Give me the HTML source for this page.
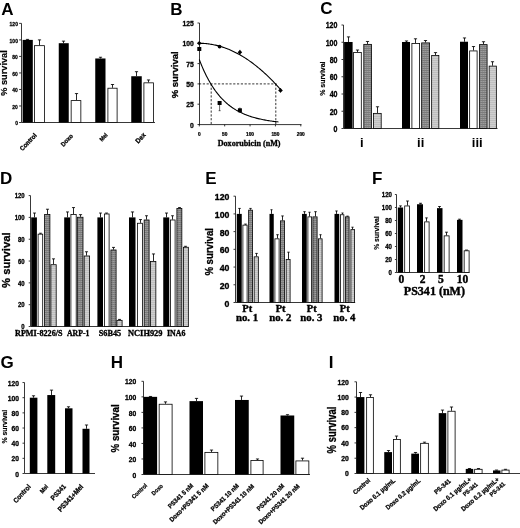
<!DOCTYPE html>
<html><head><meta charset="utf-8"><style>
html,body{margin:0;padding:0;background:#fff;width:520px;height:528px;overflow:hidden}
svg{display:block;filter:blur(0.3px)}
</style></head><body>
<svg width="520" height="528" viewBox="0 0 520 528">
<defs>
<pattern id="hatch" width="2" height="2" patternUnits="userSpaceOnUse">
<rect width="2" height="2" fill="#9c9c9c"/><rect width="2" height="0.6" fill="#666"/><rect width="0.45" height="2" fill="#7c7c7c"/>
</pattern>
<pattern id="light" width="2" height="2" patternUnits="userSpaceOnUse">
<rect width="2" height="2" fill="#cfcfcf"/><rect width="2" height="0.6" fill="#b4b4b4"/>
</pattern>
</defs>
<rect width="520" height="528" fill="#fff"/>
<text x="1.2" y="14.6" font-size="17" font-family='"Liberation Sans", sans-serif' font-weight="bold" text-anchor="start" fill="#000" >A</text>
<text x="170.3" y="14.8" font-size="17" font-family='"Liberation Sans", sans-serif' font-weight="bold" text-anchor="start" fill="#000" >B</text>
<text x="320.3" y="14" font-size="17" font-family='"Liberation Sans", sans-serif' font-weight="bold" text-anchor="start" fill="#000" >C</text>
<text x="0" y="183.6" font-size="17" font-family='"Liberation Sans", sans-serif' font-weight="bold" text-anchor="start" fill="#000" >D</text>
<text x="205.3" y="184.2" font-size="17" font-family='"Liberation Sans", sans-serif' font-weight="bold" text-anchor="start" fill="#000" >E</text>
<text x="372" y="184.2" font-size="17" font-family='"Liberation Sans", sans-serif' font-weight="bold" text-anchor="start" fill="#000" >F</text>
<text x="0.6" y="368.2" font-size="17" font-family='"Liberation Sans", sans-serif' font-weight="bold" text-anchor="start" fill="#000" >G</text>
<text x="110.8" y="368.2" font-size="17" font-family='"Liberation Sans", sans-serif' font-weight="bold" text-anchor="start" fill="#000" >H</text>
<text x="328.7" y="368.4" font-size="17" font-family='"Liberation Sans", sans-serif' font-weight="bold" text-anchor="start" fill="#000" >I</text>
<line x1="21.5" y1="122.5" x2="21.5" y2="23.38" stroke="#222" stroke-width="0.9"/>
<line x1="19.1" y1="122.5" x2="21.5" y2="122.5" stroke="#222" stroke-width="0.9"/>
<text x="17.9" y="125.2" font-size="6" font-family='"Liberation Sans", sans-serif' font-weight="bold" text-anchor="end" fill="#000" stroke="#000" stroke-width="0.27" textLength="2.77" lengthAdjust="spacingAndGlyphs" >0</text>
<line x1="19.1" y1="105.98" x2="21.5" y2="105.98" stroke="#222" stroke-width="0.9"/>
<text x="17.9" y="108.68" font-size="6" font-family='"Liberation Sans", sans-serif' font-weight="bold" text-anchor="end" fill="#000" stroke="#000" stroke-width="0.27" textLength="5.53" lengthAdjust="spacingAndGlyphs" >20</text>
<line x1="19.1" y1="89.46" x2="21.5" y2="89.46" stroke="#222" stroke-width="0.9"/>
<text x="17.9" y="92.16" font-size="6" font-family='"Liberation Sans", sans-serif' font-weight="bold" text-anchor="end" fill="#000" stroke="#000" stroke-width="0.27" textLength="5.53" lengthAdjust="spacingAndGlyphs" >40</text>
<line x1="19.1" y1="72.94" x2="21.5" y2="72.94" stroke="#222" stroke-width="0.9"/>
<text x="17.9" y="75.64" font-size="6" font-family='"Liberation Sans", sans-serif' font-weight="bold" text-anchor="end" fill="#000" stroke="#000" stroke-width="0.27" textLength="5.53" lengthAdjust="spacingAndGlyphs" >60</text>
<line x1="19.1" y1="56.42" x2="21.5" y2="56.42" stroke="#222" stroke-width="0.9"/>
<text x="17.9" y="59.12" font-size="6" font-family='"Liberation Sans", sans-serif' font-weight="bold" text-anchor="end" fill="#000" stroke="#000" stroke-width="0.27" textLength="5.53" lengthAdjust="spacingAndGlyphs" >80</text>
<line x1="19.1" y1="39.9" x2="21.5" y2="39.9" stroke="#222" stroke-width="0.9"/>
<text x="17.9" y="42.6" font-size="6" font-family='"Liberation Sans", sans-serif' font-weight="bold" text-anchor="end" fill="#000" stroke="#000" stroke-width="0.27" textLength="8.3" lengthAdjust="spacingAndGlyphs" >100</text>
<line x1="19.1" y1="23.38" x2="21.5" y2="23.38" stroke="#222" stroke-width="0.9"/>
<text x="17.9" y="26.08" font-size="6" font-family='"Liberation Sans", sans-serif' font-weight="bold" text-anchor="end" fill="#000" stroke="#000" stroke-width="0.27" textLength="8.3" lengthAdjust="spacingAndGlyphs" >120</text>
<line x1="21.5" y1="122.5" x2="155" y2="122.5" stroke="#222" stroke-width="0.9"/>
<line x1="27.5" y1="39.9" x2="27.5" y2="39.4" stroke="#000" stroke-width="0.85"/>
<line x1="25.9" y1="39.4" x2="29.1" y2="39.4" stroke="#000" stroke-width="0.85"/>
<rect x="22.6" y="39.9" width="10.2" height="82.6" fill="#000"/>
<line x1="39.5" y1="45.27" x2="39.5" y2="39.9" stroke="#000" stroke-width="0.85"/>
<line x1="37.9" y1="39.9" x2="41.1" y2="39.9" stroke="#000" stroke-width="0.85"/>
<rect x="34.5" y="45.67" width="9.9" height="76.83" fill="#fff" stroke="#000" stroke-width="0.8"/>
<line x1="63.5" y1="43.2" x2="63.5" y2="41.14" stroke="#000" stroke-width="0.85"/>
<line x1="61.9" y1="41.14" x2="65.1" y2="41.14" stroke="#000" stroke-width="0.85"/>
<rect x="58.75" y="43.2" width="10" height="79.3" fill="#000"/>
<line x1="76.5" y1="100.2" x2="76.5" y2="93.59" stroke="#000" stroke-width="0.85"/>
<line x1="74.9" y1="93.59" x2="78.1" y2="93.59" stroke="#000" stroke-width="0.85"/>
<rect x="71.15" y="100.6" width="9.7" height="21.9" fill="#fff" stroke="#000" stroke-width="0.8"/>
<line x1="100.5" y1="58.48" x2="100.5" y2="57.25" stroke="#000" stroke-width="0.85"/>
<line x1="98.9" y1="57.25" x2="102.1" y2="57.25" stroke="#000" stroke-width="0.85"/>
<rect x="95.25" y="58.48" width="10.25" height="64.02" fill="#000"/>
<line x1="112.5" y1="87.81" x2="112.5" y2="84.5" stroke="#000" stroke-width="0.85"/>
<line x1="110.9" y1="84.5" x2="114.1" y2="84.5" stroke="#000" stroke-width="0.85"/>
<rect x="107.9" y="88.21" width="9.2" height="34.29" fill="#fff" stroke="#000" stroke-width="0.8"/>
<line x1="136.5" y1="76.24" x2="136.5" y2="71.7" stroke="#000" stroke-width="0.85"/>
<line x1="134.9" y1="71.7" x2="138.1" y2="71.7" stroke="#000" stroke-width="0.85"/>
<rect x="131.25" y="76.24" width="10.5" height="46.26" fill="#000"/>
<line x1="148.5" y1="82.44" x2="148.5" y2="79.96" stroke="#000" stroke-width="0.85"/>
<line x1="146.9" y1="79.96" x2="150.1" y2="79.96" stroke="#000" stroke-width="0.85"/>
<rect x="143.9" y="82.84" width="9.7" height="39.66" fill="#fff" stroke="#000" stroke-width="0.8"/>
<text x="6.9" y="73" font-size="8.6" font-family='"Liberation Sans", sans-serif' font-weight="bold" text-anchor="middle" fill="#000" stroke="#000" stroke-width="0.18" textLength="45.5" lengthAdjust="spacingAndGlyphs" transform="rotate(-90 6.9 73)" >% survival</text>
<text x="37.12" y="135.83" font-size="6.56" font-family='"Liberation Sans", sans-serif' font-weight="bold" text-anchor="end" fill="#000" stroke="#000" stroke-width="0.28" textLength="21.2" lengthAdjust="spacingAndGlyphs" transform="rotate(-46.5 37.12 135.83)" >Control</text>
<text x="73.38" y="136.43" font-size="6.35" font-family='"Liberation Sans", sans-serif' font-weight="bold" text-anchor="end" fill="#000" stroke="#000" stroke-width="0.28" textLength="14.42" lengthAdjust="spacingAndGlyphs" transform="rotate(-46.5 73.38 136.43)" >Doxo</text>
<text x="108.1" y="135.29" font-size="5.95" font-family='"Liberation Sans", sans-serif' font-weight="bold" text-anchor="end" fill="#000" stroke="#000" stroke-width="0.27" textLength="9.01" lengthAdjust="spacingAndGlyphs" transform="rotate(-46.5 108.1 135.29)" >Mel</text>
<text x="146.28" y="135.33" font-size="6.93" font-family='"Liberation Sans", sans-serif' font-weight="bold" text-anchor="end" fill="#000" stroke="#000" stroke-width="0.29" textLength="11.56" lengthAdjust="spacingAndGlyphs" transform="rotate(-46.5 146.28 135.33)" >Dex</text>
<line x1="199.5" y1="124.5" x2="199.5" y2="23" stroke="#222" stroke-width="0.9"/>
<line x1="197.5" y1="124.5" x2="199.5" y2="124.5" stroke="#222" stroke-width="0.9"/>
<text x="193.9" y="127.6" font-size="6.4" font-family='"Liberation Sans", sans-serif' font-weight="bold" text-anchor="end" fill="#000" stroke="#000" stroke-width="0.28" textLength="3.77" lengthAdjust="spacingAndGlyphs" >0</text>
<line x1="197.5" y1="104.2" x2="199.5" y2="104.2" stroke="#222" stroke-width="0.9"/>
<text x="193.9" y="107.3" font-size="6.4" font-family='"Liberation Sans", sans-serif' font-weight="bold" text-anchor="end" fill="#000" stroke="#000" stroke-width="0.28" textLength="7.53" lengthAdjust="spacingAndGlyphs" >25</text>
<line x1="197.5" y1="83.9" x2="199.5" y2="83.9" stroke="#222" stroke-width="0.9"/>
<text x="193.9" y="87" font-size="6.4" font-family='"Liberation Sans", sans-serif' font-weight="bold" text-anchor="end" fill="#000" stroke="#000" stroke-width="0.28" textLength="7.53" lengthAdjust="spacingAndGlyphs" >50</text>
<line x1="197.5" y1="63.6" x2="199.5" y2="63.6" stroke="#222" stroke-width="0.9"/>
<text x="193.9" y="66.7" font-size="6.4" font-family='"Liberation Sans", sans-serif' font-weight="bold" text-anchor="end" fill="#000" stroke="#000" stroke-width="0.28" textLength="7.53" lengthAdjust="spacingAndGlyphs" >75</text>
<line x1="197.5" y1="43.3" x2="199.5" y2="43.3" stroke="#222" stroke-width="0.9"/>
<text x="193.9" y="46.4" font-size="6.4" font-family='"Liberation Sans", sans-serif' font-weight="bold" text-anchor="end" fill="#000" stroke="#000" stroke-width="0.28" textLength="11.3" lengthAdjust="spacingAndGlyphs" >100</text>
<line x1="197.5" y1="23" x2="199.5" y2="23" stroke="#222" stroke-width="0.9"/>
<text x="193.9" y="26.1" font-size="6.4" font-family='"Liberation Sans", sans-serif' font-weight="bold" text-anchor="end" fill="#000" stroke="#000" stroke-width="0.28" textLength="11.3" lengthAdjust="spacingAndGlyphs" >125</text>
<line x1="199" y1="124.6" x2="301.5" y2="124.6" stroke="#000" stroke-width="0.8"/>
<line x1="199.3" y1="124.6" x2="199.3" y2="126.4" stroke="#000" stroke-width="0.8"/>
<text x="199.3" y="136" font-size="4.8" font-family='"Liberation Sans", sans-serif' font-weight="bold" text-anchor="middle" fill="#000" stroke="#000" stroke-width="0.24" >0</text>
<line x1="224.68" y1="124.6" x2="224.68" y2="126.4" stroke="#000" stroke-width="0.8"/>
<text x="224.68" y="136" font-size="4.8" font-family='"Liberation Sans", sans-serif' font-weight="bold" text-anchor="middle" fill="#000" stroke="#000" stroke-width="0.24" >50</text>
<line x1="250.05" y1="124.6" x2="250.05" y2="126.4" stroke="#000" stroke-width="0.8"/>
<text x="250.05" y="136" font-size="4.8" font-family='"Liberation Sans", sans-serif' font-weight="bold" text-anchor="middle" fill="#000" stroke="#000" stroke-width="0.24" >100</text>
<line x1="275.43" y1="124.6" x2="275.43" y2="126.4" stroke="#000" stroke-width="0.8"/>
<text x="275.43" y="136" font-size="4.8" font-family='"Liberation Sans", sans-serif' font-weight="bold" text-anchor="middle" fill="#000" stroke="#000" stroke-width="0.24" >150</text>
<line x1="300.8" y1="124.6" x2="300.8" y2="126.4" stroke="#000" stroke-width="0.8"/>
<text x="300.8" y="136" font-size="4.8" font-family='"Liberation Sans", sans-serif' font-weight="bold" text-anchor="middle" fill="#000" stroke="#000" stroke-width="0.24" >200</text>
<text x="249.1" y="145.5" font-size="9" font-family='"Liberation Serif", serif' font-weight="bold" text-anchor="middle" fill="#000" stroke="#000" stroke-width="0.34" textLength="62.8" lengthAdjust="spacingAndGlyphs" >Doxorubicin (nM)</text>
<text x="177.9" y="74.8" font-size="9.3" font-family='"Liberation Sans", sans-serif' font-weight="bold" text-anchor="middle" fill="#000" stroke="#000" stroke-width="0.3" textLength="47" lengthAdjust="spacingAndGlyphs" transform="rotate(-90 177.9 74.8)" >% survival</text>
<line x1="199" y1="83.9" x2="276.6" y2="83.9" stroke="#000" stroke-width="0.8" stroke-dasharray="2.2,1.6"/>
<line x1="211.2" y1="83.9" x2="211.2" y2="124.6" stroke="#000" stroke-width="0.8" stroke-dasharray="2.2,1.6"/>
<line x1="275.8" y1="83.9" x2="275.8" y2="124.6" stroke="#000" stroke-width="0.8" stroke-dasharray="2.2,1.6"/>
<polyline points="199.3,43.3 200.31,43.31 201.33,43.33 202.34,43.36 203.36,43.42 204.38,43.48 205.39,43.56 206.41,43.65 207.42,43.76 208.44,43.88 209.45,44.02 210.47,44.17 211.48,44.34 212.5,44.52 213.51,44.71 214.53,44.92 215.54,45.15 216.56,45.38 217.57,45.64 218.59,45.9 219.6,46.18 220.62,46.48 221.63,46.79 222.65,47.11 223.66,47.45 224.68,47.81 225.69,48.17 226.71,48.56 227.72,48.95 228.74,49.36 229.75,49.79 230.77,50.23 231.78,50.68 232.8,51.15 233.81,51.64 234.83,52.13 235.84,52.64 236.86,53.17 237.87,53.71 238.88,54.27 239.9,54.84 240.92,55.42 241.93,56.02 242.94,56.63 243.96,57.26 244.98,57.9 245.99,58.56 247,59.23 248.02,59.91 249.03,60.61 250.05,61.33 251.06,62.05 252.08,62.8 253.09,63.55 254.11,64.33 255.12,65.11 256.14,65.91 257.16,66.73 258.17,67.56 259.19,68.4 260.2,69.26 261.22,70.13 262.23,71.02 263.25,71.92 264.26,72.83 265.27,73.76 266.29,74.71 267.31,75.67 268.32,76.64 269.34,77.63 270.35,78.63 271.37,79.65 272.38,80.68 273.39,81.73 274.41,82.79 275.43,83.86 276.44,84.95 277.45,86.05 278.47,87.17 279.49,88.3 280.5,89.45" fill="none" stroke="#000" stroke-width="1.1"/>
<polyline points="199.3,59.54 200.31,62.17 201.33,64.7 202.34,67.13 203.36,69.45 204.38,71.69 205.39,73.83 206.41,75.88 207.42,77.85 208.44,79.75 209.45,81.56 210.47,83.3 211.48,84.97 212.5,86.58 213.51,88.11 214.53,89.59 215.54,91.01 216.56,92.36 217.57,93.67 218.59,94.92 219.6,96.12 220.62,97.27 221.63,98.37 222.65,99.43 223.66,100.45 224.68,101.42 225.69,102.36 226.71,103.26 227.72,104.12 228.74,104.95 229.75,105.74 230.77,106.5 231.78,107.23 232.8,107.93 233.81,108.6 234.83,109.25 235.84,109.87 236.86,110.46 237.87,111.03 238.88,111.57 239.9,112.1 240.92,112.6 241.93,113.08 242.94,113.55 243.96,113.99 244.98,114.42 245.99,114.83 247,115.22 248.02,115.6 249.03,115.96 250.05,116.3 251.06,116.64 252.08,116.95 253.09,117.26 254.11,117.55 255.12,117.84 256.14,118.11 257.16,118.37 258.17,118.61 259.19,118.85 260.2,119.08 261.22,119.3 262.23,119.51 263.25,119.71 264.26,119.91 265.27,120.09 266.29,120.27 267.31,120.44 268.32,120.61 269.34,120.77 270.35,120.92 271.37,121.06 272.38,121.2 273.39,121.34 274.41,121.47 275.43,121.59 276.44,121.71 277.45,121.82 278.47,121.93" fill="none" stroke="#000" stroke-width="1.1"/>
<path d="M199.3,41 L201.6,43.3 L199.3,45.6 L197,43.3Z" fill="#000"/>
<circle cx="219.6" cy="46.55" r="1.9" fill="#000"/>
<path d="M239.9,49.93 L242.2,52.23 L239.9,54.53 L237.6,52.23Z" fill="#000"/>
<line x1="239.9" y1="54.67" x2="239.9" y2="49.8" stroke="#000" stroke-width="0.6"/>
<path d="M280.5,88.1 L282.8,90.4 L280.5,92.7 L278.2,90.4Z" fill="#000"/>
<line x1="280.5" y1="92.43" x2="280.5" y2="88.37" stroke="#000" stroke-width="0.6"/>
<rect x="197.3" y="46.98" width="4" height="4" fill="#000"/>
<rect x="217.6" y="100.98" width="4" height="4" fill="#000"/>
<line x1="219.6" y1="102.98" x2="219.6" y2="110.7" stroke="#000" stroke-width="0.6"/>
<line x1="218.6" y1="110.7" x2="220.6" y2="110.7" stroke="#000" stroke-width="0.6"/>
<rect x="237.9" y="108.29" width="4" height="4" fill="#000"/>
<line x1="239.9" y1="112.73" x2="239.9" y2="107.45" stroke="#000" stroke-width="0.6"/>
<line x1="343.5" y1="128.5" x2="343.5" y2="25" stroke="#222" stroke-width="0.9"/>
<line x1="341.5" y1="128.5" x2="343.5" y2="128.5" stroke="#222" stroke-width="0.9"/>
<text x="337.5" y="131.95" font-size="8.8" font-family='"Liberation Sans", sans-serif' font-weight="bold" text-anchor="end" fill="#000" stroke="#000" stroke-width="0.34" textLength="3.93" lengthAdjust="spacingAndGlyphs" >0</text>
<line x1="341.5" y1="111.25" x2="343.5" y2="111.25" stroke="#222" stroke-width="0.9"/>
<text x="337.5" y="114.7" font-size="8.8" font-family='"Liberation Sans", sans-serif' font-weight="bold" text-anchor="end" fill="#000" stroke="#000" stroke-width="0.34" textLength="7.87" lengthAdjust="spacingAndGlyphs" >20</text>
<line x1="341.5" y1="94" x2="343.5" y2="94" stroke="#222" stroke-width="0.9"/>
<text x="337.5" y="97.45" font-size="8.8" font-family='"Liberation Sans", sans-serif' font-weight="bold" text-anchor="end" fill="#000" stroke="#000" stroke-width="0.34" textLength="7.87" lengthAdjust="spacingAndGlyphs" >40</text>
<line x1="341.5" y1="76.75" x2="343.5" y2="76.75" stroke="#222" stroke-width="0.9"/>
<text x="337.5" y="80.2" font-size="8.8" font-family='"Liberation Sans", sans-serif' font-weight="bold" text-anchor="end" fill="#000" stroke="#000" stroke-width="0.34" textLength="7.87" lengthAdjust="spacingAndGlyphs" >60</text>
<line x1="341.5" y1="59.5" x2="343.5" y2="59.5" stroke="#222" stroke-width="0.9"/>
<text x="337.5" y="62.95" font-size="8.8" font-family='"Liberation Sans", sans-serif' font-weight="bold" text-anchor="end" fill="#000" stroke="#000" stroke-width="0.34" textLength="7.87" lengthAdjust="spacingAndGlyphs" >80</text>
<line x1="341.5" y1="42.25" x2="343.5" y2="42.25" stroke="#222" stroke-width="0.9"/>
<text x="337.5" y="45.7" font-size="8.8" font-family='"Liberation Sans", sans-serif' font-weight="bold" text-anchor="end" fill="#000" stroke="#000" stroke-width="0.34" textLength="11.8" lengthAdjust="spacingAndGlyphs" >100</text>
<line x1="341.5" y1="25" x2="343.5" y2="25" stroke="#222" stroke-width="0.9"/>
<text x="337.5" y="28.45" font-size="8.8" font-family='"Liberation Sans", sans-serif' font-weight="bold" text-anchor="end" fill="#000" stroke="#000" stroke-width="0.34" textLength="11.8" lengthAdjust="spacingAndGlyphs" >120</text>
<line x1="343.5" y1="128.5" x2="497.5" y2="128.5" stroke="#222" stroke-width="0.9"/>
<line x1="348.5" y1="41.99" x2="348.5" y2="36.9" stroke="#000" stroke-width="0.85"/>
<line x1="346.9" y1="36.9" x2="350.1" y2="36.9" stroke="#000" stroke-width="0.85"/>
<rect x="344.1" y="41.99" width="8.5" height="86.51" fill="#000"/>
<line x1="357.5" y1="52" x2="357.5" y2="50.01" stroke="#000" stroke-width="0.85"/>
<line x1="355.9" y1="50.01" x2="359.1" y2="50.01" stroke="#000" stroke-width="0.85"/>
<rect x="353.6" y="52.4" width="7.7" height="76.1" fill="#fff" stroke="#000" stroke-width="0.8"/>
<line x1="367.5" y1="43.97" x2="367.5" y2="41.47" stroke="#000" stroke-width="0.85"/>
<line x1="365.9" y1="41.47" x2="369.1" y2="41.47" stroke="#000" stroke-width="0.85"/>
<rect x="363.8" y="44.37" width="7.7" height="84.12" fill="url(#hatch)" stroke="#000" stroke-width="0.8"/>
<line x1="377.5" y1="112.97" x2="377.5" y2="106.77" stroke="#000" stroke-width="0.85"/>
<line x1="375.9" y1="106.77" x2="379.1" y2="106.77" stroke="#000" stroke-width="0.85"/>
<rect x="373.4" y="113.38" width="7.8" height="15.13" fill="url(#light)" stroke="#000" stroke-width="0.8"/>
<line x1="406.5" y1="41.99" x2="406.5" y2="40.96" stroke="#000" stroke-width="0.85"/>
<line x1="404.9" y1="40.96" x2="408.1" y2="40.96" stroke="#000" stroke-width="0.85"/>
<rect x="402" y="41.99" width="8" height="86.51" fill="#000"/>
<line x1="415.5" y1="43.03" x2="415.5" y2="38.8" stroke="#000" stroke-width="0.85"/>
<line x1="413.9" y1="38.8" x2="417.1" y2="38.8" stroke="#000" stroke-width="0.85"/>
<rect x="411.9" y="43.43" width="7.7" height="85.07" fill="#fff" stroke="#000" stroke-width="0.8"/>
<line x1="425.5" y1="42.51" x2="425.5" y2="40.52" stroke="#000" stroke-width="0.85"/>
<line x1="423.9" y1="40.52" x2="427.1" y2="40.52" stroke="#000" stroke-width="0.85"/>
<rect x="421.65" y="42.91" width="7.95" height="85.59" fill="url(#hatch)" stroke="#000" stroke-width="0.8"/>
<line x1="435.5" y1="55.02" x2="435.5" y2="52.6" stroke="#000" stroke-width="0.85"/>
<line x1="433.9" y1="52.6" x2="437.1" y2="52.6" stroke="#000" stroke-width="0.85"/>
<rect x="431.65" y="55.41" width="7.2" height="73.08" fill="url(#light)" stroke="#000" stroke-width="0.8"/>
<line x1="464.5" y1="41.73" x2="464.5" y2="37.94" stroke="#000" stroke-width="0.85"/>
<line x1="462.9" y1="37.94" x2="466.1" y2="37.94" stroke="#000" stroke-width="0.85"/>
<rect x="460" y="41.73" width="8" height="86.77" fill="#000"/>
<line x1="473.5" y1="50.53" x2="473.5" y2="46.56" stroke="#000" stroke-width="0.85"/>
<line x1="471.9" y1="46.56" x2="475.1" y2="46.56" stroke="#000" stroke-width="0.85"/>
<rect x="469.65" y="50.93" width="7.45" height="77.57" fill="#fff" stroke="#000" stroke-width="0.8"/>
<line x1="483.5" y1="44.23" x2="483.5" y2="41.73" stroke="#000" stroke-width="0.85"/>
<line x1="481.9" y1="41.73" x2="485.1" y2="41.73" stroke="#000" stroke-width="0.85"/>
<rect x="479.4" y="44.63" width="7.7" height="83.87" fill="url(#hatch)" stroke="#000" stroke-width="0.8"/>
<line x1="492.5" y1="65.71" x2="492.5" y2="61.74" stroke="#000" stroke-width="0.85"/>
<line x1="490.9" y1="61.74" x2="494.1" y2="61.74" stroke="#000" stroke-width="0.85"/>
<rect x="489.15" y="66.11" width="7.2" height="62.39" fill="url(#light)" stroke="#000" stroke-width="0.8"/>
<text x="325.4" y="78.65" font-size="6.4" font-family='"Liberation Sans", sans-serif' font-weight="bold" text-anchor="middle" fill="#000" stroke="#000" stroke-width="0.18" textLength="34.3" lengthAdjust="spacingAndGlyphs" transform="rotate(-90 325.4 78.65)" >% survival</text>
<text x="361.7" y="147.2" font-size="13" font-family='"Liberation Sans", sans-serif' font-weight="bold" text-anchor="middle" fill="#000" stroke="#000" stroke-width="0.01" >i</text>
<text x="420.7" y="147.2" font-size="13" font-family='"Liberation Sans", sans-serif' font-weight="bold" text-anchor="middle" fill="#000" stroke="#000" stroke-width="0.01" >ii</text>
<text x="477.2" y="147.2" font-size="13" font-family='"Liberation Sans", sans-serif' font-weight="bold" text-anchor="middle" fill="#000" stroke="#000" stroke-width="0.01" >iii</text>
<line x1="30.5" y1="326.5" x2="30.5" y2="195.58" stroke="#222" stroke-width="0.9"/>
<line x1="28.7" y1="326.5" x2="30.5" y2="326.5" stroke="#222" stroke-width="0.9"/>
<text x="24.7" y="329.27" font-size="6.3" font-family='"Liberation Sans", sans-serif' font-weight="bold" text-anchor="end" fill="#000" stroke="#000" stroke-width="0.28" textLength="3.33" lengthAdjust="spacingAndGlyphs" >0</text>
<line x1="28.7" y1="304.68" x2="30.5" y2="304.68" stroke="#222" stroke-width="0.9"/>
<text x="24.7" y="307.45" font-size="6.3" font-family='"Liberation Sans", sans-serif' font-weight="bold" text-anchor="end" fill="#000" stroke="#000" stroke-width="0.28" textLength="6.67" lengthAdjust="spacingAndGlyphs" >20</text>
<line x1="28.7" y1="282.86" x2="30.5" y2="282.86" stroke="#222" stroke-width="0.9"/>
<text x="24.7" y="285.63" font-size="6.3" font-family='"Liberation Sans", sans-serif' font-weight="bold" text-anchor="end" fill="#000" stroke="#000" stroke-width="0.28" textLength="6.67" lengthAdjust="spacingAndGlyphs" >40</text>
<line x1="28.7" y1="261.04" x2="30.5" y2="261.04" stroke="#222" stroke-width="0.9"/>
<text x="24.7" y="263.81" font-size="6.3" font-family='"Liberation Sans", sans-serif' font-weight="bold" text-anchor="end" fill="#000" stroke="#000" stroke-width="0.28" textLength="6.67" lengthAdjust="spacingAndGlyphs" >60</text>
<line x1="28.7" y1="239.22" x2="30.5" y2="239.22" stroke="#222" stroke-width="0.9"/>
<text x="24.7" y="241.99" font-size="6.3" font-family='"Liberation Sans", sans-serif' font-weight="bold" text-anchor="end" fill="#000" stroke="#000" stroke-width="0.28" textLength="6.67" lengthAdjust="spacingAndGlyphs" >80</text>
<line x1="28.7" y1="217.4" x2="30.5" y2="217.4" stroke="#222" stroke-width="0.9"/>
<text x="24.7" y="220.17" font-size="6.3" font-family='"Liberation Sans", sans-serif' font-weight="bold" text-anchor="end" fill="#000" stroke="#000" stroke-width="0.28" textLength="10" lengthAdjust="spacingAndGlyphs" >100</text>
<line x1="28.7" y1="195.58" x2="30.5" y2="195.58" stroke="#222" stroke-width="0.9"/>
<text x="24.7" y="198.35" font-size="6.3" font-family='"Liberation Sans", sans-serif' font-weight="bold" text-anchor="end" fill="#000" stroke="#000" stroke-width="0.28" textLength="10" lengthAdjust="spacingAndGlyphs" >120</text>
<line x1="30.5" y1="326.5" x2="188.75" y2="326.5" stroke="#222" stroke-width="0.9"/>
<line x1="34.5" y1="217.4" x2="34.5" y2="213.04" stroke="#000" stroke-width="0.85"/>
<line x1="33.08" y1="213.04" x2="35.92" y2="213.04" stroke="#000" stroke-width="0.85"/>
<rect x="31.2" y="217.4" width="5.7" height="109.1" fill="#000"/>
<line x1="40.5" y1="233.76" x2="40.5" y2="233.22" stroke="#000" stroke-width="0.85"/>
<line x1="39.15" y1="233.22" x2="41.85" y2="233.22" stroke="#000" stroke-width="0.85"/>
<rect x="38.1" y="234.16" width="4.6" height="92.34" fill="#fff" stroke="#000" stroke-width="0.8"/>
<line x1="47.5" y1="214.13" x2="47.5" y2="209.22" stroke="#000" stroke-width="0.85"/>
<line x1="45.98" y1="209.22" x2="49.02" y2="209.22" stroke="#000" stroke-width="0.85"/>
<rect x="44.6" y="214.53" width="5.3" height="111.97" fill="url(#hatch)" stroke="#000" stroke-width="0.8"/>
<line x1="53.5" y1="264.31" x2="53.5" y2="258.86" stroke="#000" stroke-width="0.85"/>
<line x1="51.98" y1="258.86" x2="55.02" y2="258.86" stroke="#000" stroke-width="0.85"/>
<rect x="50.9" y="264.71" width="5.3" height="61.79" fill="url(#light)" stroke="#000" stroke-width="0.8"/>
<line x1="67.5" y1="217.4" x2="67.5" y2="211.94" stroke="#000" stroke-width="0.85"/>
<line x1="66.05" y1="211.94" x2="68.95" y2="211.94" stroke="#000" stroke-width="0.85"/>
<rect x="64.2" y="217.4" width="5.8" height="109.1" fill="#000"/>
<line x1="73.5" y1="214.13" x2="73.5" y2="207.58" stroke="#000" stroke-width="0.85"/>
<line x1="71.97" y1="207.58" x2="75.03" y2="207.58" stroke="#000" stroke-width="0.85"/>
<rect x="70.9" y="214.53" width="5.3" height="111.97" fill="#fff" stroke="#000" stroke-width="0.8"/>
<line x1="80.5" y1="216.85" x2="80.5" y2="214.67" stroke="#000" stroke-width="0.85"/>
<line x1="78.9" y1="214.67" x2="82.1" y2="214.67" stroke="#000" stroke-width="0.85"/>
<rect x="77.3" y="217.25" width="5.7" height="109.25" fill="url(#hatch)" stroke="#000" stroke-width="0.8"/>
<line x1="86.5" y1="255.59" x2="86.5" y2="251.77" stroke="#000" stroke-width="0.85"/>
<line x1="84.95" y1="251.77" x2="88.05" y2="251.77" stroke="#000" stroke-width="0.85"/>
<rect x="84.2" y="255.99" width="5.4" height="70.51" fill="url(#light)" stroke="#000" stroke-width="0.8"/>
<line x1="100.5" y1="217.4" x2="100.5" y2="213.04" stroke="#000" stroke-width="0.85"/>
<line x1="99.1" y1="213.04" x2="101.9" y2="213.04" stroke="#000" stroke-width="0.85"/>
<rect x="97.4" y="217.4" width="5.6" height="109.1" fill="#000"/>
<line x1="106.5" y1="213.58" x2="106.5" y2="213.04" stroke="#000" stroke-width="0.85"/>
<line x1="105.12" y1="213.04" x2="107.88" y2="213.04" stroke="#000" stroke-width="0.85"/>
<rect x="104.4" y="213.98" width="4.7" height="112.52" fill="#fff" stroke="#000" stroke-width="0.8"/>
<line x1="113.5" y1="249.58" x2="113.5" y2="247.4" stroke="#000" stroke-width="0.85"/>
<line x1="112" y1="247.4" x2="115" y2="247.4" stroke="#000" stroke-width="0.85"/>
<rect x="110.9" y="249.98" width="5.2" height="76.52" fill="url(#hatch)" stroke="#000" stroke-width="0.8"/>
<line x1="119.5" y1="319.95" x2="119.5" y2="319.41" stroke="#000" stroke-width="0.85"/>
<line x1="118" y1="319.41" x2="121" y2="319.41" stroke="#000" stroke-width="0.85"/>
<rect x="116.9" y="320.35" width="5.2" height="6.15" fill="url(#light)" stroke="#000" stroke-width="0.8"/>
<line x1="132.5" y1="217.4" x2="132.5" y2="211.94" stroke="#000" stroke-width="0.85"/>
<line x1="130.9" y1="211.94" x2="134.1" y2="211.94" stroke="#000" stroke-width="0.85"/>
<rect x="129" y="217.4" width="6.5" height="109.1" fill="#000"/>
<line x1="140.5" y1="222.86" x2="140.5" y2="219.58" stroke="#000" stroke-width="0.85"/>
<line x1="139" y1="219.58" x2="142" y2="219.58" stroke="#000" stroke-width="0.85"/>
<rect x="137.4" y="223.26" width="5.2" height="103.24" fill="#fff" stroke="#000" stroke-width="0.8"/>
<line x1="146.5" y1="219.58" x2="146.5" y2="215.76" stroke="#000" stroke-width="0.85"/>
<line x1="145.06" y1="215.76" x2="147.94" y2="215.76" stroke="#000" stroke-width="0.85"/>
<rect x="144.15" y="219.98" width="4.95" height="106.52" fill="url(#hatch)" stroke="#000" stroke-width="0.8"/>
<line x1="153.5" y1="261.04" x2="153.5" y2="253.95" stroke="#000" stroke-width="0.85"/>
<line x1="151.94" y1="253.95" x2="155.06" y2="253.95" stroke="#000" stroke-width="0.85"/>
<rect x="150.4" y="261.44" width="5.45" height="65.06" fill="url(#light)" stroke="#000" stroke-width="0.8"/>
<line x1="166.5" y1="217.4" x2="166.5" y2="213.04" stroke="#000" stroke-width="0.85"/>
<line x1="165" y1="213.04" x2="168" y2="213.04" stroke="#000" stroke-width="0.85"/>
<rect x="163.25" y="217.4" width="6" height="109.1" fill="#000"/>
<line x1="172.5" y1="219.58" x2="172.5" y2="215.76" stroke="#000" stroke-width="0.85"/>
<line x1="171.12" y1="215.76" x2="173.88" y2="215.76" stroke="#000" stroke-width="0.85"/>
<rect x="170.4" y="219.98" width="4.7" height="106.52" fill="#fff" stroke="#000" stroke-width="0.8"/>
<line x1="179.5" y1="208.13" x2="179.5" y2="207.58" stroke="#000" stroke-width="0.85"/>
<line x1="178.06" y1="207.58" x2="180.94" y2="207.58" stroke="#000" stroke-width="0.85"/>
<rect x="176.9" y="208.53" width="4.95" height="117.97" fill="url(#hatch)" stroke="#000" stroke-width="0.8"/>
<line x1="185.5" y1="246.86" x2="185.5" y2="246.31" stroke="#000" stroke-width="0.85"/>
<line x1="184.06" y1="246.31" x2="186.94" y2="246.31" stroke="#000" stroke-width="0.85"/>
<rect x="183.4" y="247.26" width="4.95" height="79.24" fill="url(#light)" stroke="#000" stroke-width="0.8"/>
<text x="10.1" y="260.2" font-size="11" font-family='"Liberation Sans", sans-serif' font-weight="bold" text-anchor="middle" fill="#000" stroke="#000" stroke-width="0.3" textLength="55.6" lengthAdjust="spacingAndGlyphs" transform="rotate(-90 10.1 260.2)" >% survival</text>
<text x="38.75" y="336.4" font-size="8.4" font-family='"Liberation Serif", serif' font-weight="bold" text-anchor="middle" fill="#000" stroke="#000" stroke-width="0.33" textLength="47.5" lengthAdjust="spacingAndGlyphs" >RPMI-8226/S</text>
<text x="78.25" y="336.4" font-size="8.4" font-family='"Liberation Serif", serif' font-weight="bold" text-anchor="middle" fill="#000" stroke="#000" stroke-width="0.33" textLength="22.5" lengthAdjust="spacingAndGlyphs" >ARP-1</text>
<text x="110" y="336.4" font-size="8.4" font-family='"Liberation Serif", serif' font-weight="bold" text-anchor="middle" fill="#000" stroke="#000" stroke-width="0.33" textLength="22.5" lengthAdjust="spacingAndGlyphs" >S6B45</text>
<text x="145.25" y="336.4" font-size="8.4" font-family='"Liberation Serif", serif' font-weight="bold" text-anchor="middle" fill="#000" stroke="#000" stroke-width="0.33" textLength="34.5" lengthAdjust="spacingAndGlyphs" >NCIH929</text>
<text x="176.25" y="336.4" font-size="8.4" font-family='"Liberation Serif", serif' font-weight="bold" text-anchor="middle" fill="#000" stroke="#000" stroke-width="0.33" textLength="18.5" lengthAdjust="spacingAndGlyphs" >INA6</text>
<line x1="235.5" y1="302.5" x2="235.5" y2="196.18" stroke="#222" stroke-width="0.9"/>
<line x1="233.5" y1="302.5" x2="235.5" y2="302.5" stroke="#222" stroke-width="0.9"/>
<text x="229.4" y="306.53" font-size="9.8" font-family='"Liberation Sans", sans-serif' font-weight="bold" text-anchor="end" fill="#000" stroke="#000" stroke-width="0.36" textLength="4.87" lengthAdjust="spacingAndGlyphs" >0</text>
<line x1="233.5" y1="284.78" x2="235.5" y2="284.78" stroke="#222" stroke-width="0.9"/>
<text x="229.4" y="288.81" font-size="9.8" font-family='"Liberation Sans", sans-serif' font-weight="bold" text-anchor="end" fill="#000" stroke="#000" stroke-width="0.36" textLength="9.73" lengthAdjust="spacingAndGlyphs" >20</text>
<line x1="233.5" y1="267.06" x2="235.5" y2="267.06" stroke="#222" stroke-width="0.9"/>
<text x="229.4" y="271.09" font-size="9.8" font-family='"Liberation Sans", sans-serif' font-weight="bold" text-anchor="end" fill="#000" stroke="#000" stroke-width="0.36" textLength="9.73" lengthAdjust="spacingAndGlyphs" >40</text>
<line x1="233.5" y1="249.34" x2="235.5" y2="249.34" stroke="#222" stroke-width="0.9"/>
<text x="229.4" y="253.37" font-size="9.8" font-family='"Liberation Sans", sans-serif' font-weight="bold" text-anchor="end" fill="#000" stroke="#000" stroke-width="0.36" textLength="9.73" lengthAdjust="spacingAndGlyphs" >60</text>
<line x1="233.5" y1="231.62" x2="235.5" y2="231.62" stroke="#222" stroke-width="0.9"/>
<text x="229.4" y="235.65" font-size="9.8" font-family='"Liberation Sans", sans-serif' font-weight="bold" text-anchor="end" fill="#000" stroke="#000" stroke-width="0.36" textLength="9.73" lengthAdjust="spacingAndGlyphs" >80</text>
<line x1="233.5" y1="213.9" x2="235.5" y2="213.9" stroke="#222" stroke-width="0.9"/>
<text x="229.4" y="217.93" font-size="9.8" font-family='"Liberation Sans", sans-serif' font-weight="bold" text-anchor="end" fill="#000" stroke="#000" stroke-width="0.36" textLength="14.6" lengthAdjust="spacingAndGlyphs" >100</text>
<line x1="233.5" y1="196.18" x2="235.5" y2="196.18" stroke="#222" stroke-width="0.9"/>
<text x="229.4" y="200.21" font-size="9.8" font-family='"Liberation Sans", sans-serif' font-weight="bold" text-anchor="end" fill="#000" stroke="#000" stroke-width="0.36" textLength="14.6" lengthAdjust="spacingAndGlyphs" >120</text>
<line x1="235.5" y1="302.5" x2="355.2" y2="302.5" stroke="#222" stroke-width="0.9"/>
<line x1="239.5" y1="213.9" x2="239.5" y2="208.41" stroke="#000" stroke-width="0.85"/>
<line x1="238.25" y1="208.41" x2="240.75" y2="208.41" stroke="#000" stroke-width="0.85"/>
<rect x="236.75" y="213.9" width="5" height="88.6" fill="#000"/>
<line x1="245.5" y1="224.71" x2="245.5" y2="224.09" stroke="#000" stroke-width="0.85"/>
<line x1="244.25" y1="224.09" x2="246.75" y2="224.09" stroke="#000" stroke-width="0.85"/>
<rect x="242.9" y="225.11" width="4.2" height="77.39" fill="#fff" stroke="#000" stroke-width="0.8"/>
<line x1="250.5" y1="209.74" x2="250.5" y2="208.41" stroke="#000" stroke-width="0.85"/>
<line x1="249.31" y1="208.41" x2="251.69" y2="208.41" stroke="#000" stroke-width="0.85"/>
<rect x="248.65" y="210.14" width="3.95" height="92.36" fill="url(#hatch)" stroke="#000" stroke-width="0.8"/>
<line x1="256.5" y1="256.43" x2="256.5" y2="253.42" stroke="#000" stroke-width="0.85"/>
<line x1="255.25" y1="253.42" x2="257.75" y2="253.42" stroke="#000" stroke-width="0.85"/>
<rect x="254.15" y="256.83" width="4.2" height="45.67" fill="url(#light)" stroke="#000" stroke-width="0.8"/>
<line x1="271.5" y1="213.9" x2="271.5" y2="209.74" stroke="#000" stroke-width="0.85"/>
<line x1="270.44" y1="209.74" x2="272.56" y2="209.74" stroke="#000" stroke-width="0.85"/>
<rect x="269.5" y="213.9" width="4.25" height="88.6" fill="#000"/>
<line x1="277.5" y1="238.44" x2="277.5" y2="234.72" stroke="#000" stroke-width="0.85"/>
<line x1="276.25" y1="234.72" x2="278.75" y2="234.72" stroke="#000" stroke-width="0.85"/>
<rect x="274.9" y="238.84" width="4.2" height="63.66" fill="#fff" stroke="#000" stroke-width="0.8"/>
<line x1="282.5" y1="220.46" x2="282.5" y2="215.94" stroke="#000" stroke-width="0.85"/>
<line x1="281.25" y1="215.94" x2="283.75" y2="215.94" stroke="#000" stroke-width="0.85"/>
<rect x="280.4" y="220.86" width="4.2" height="81.64" fill="url(#hatch)" stroke="#000" stroke-width="0.8"/>
<line x1="288.5" y1="259.17" x2="288.5" y2="252.18" stroke="#000" stroke-width="0.85"/>
<line x1="287.31" y1="252.18" x2="289.69" y2="252.18" stroke="#000" stroke-width="0.85"/>
<rect x="286.15" y="259.57" width="3.95" height="42.93" fill="url(#light)" stroke="#000" stroke-width="0.8"/>
<line x1="304.5" y1="213.9" x2="304.5" y2="211.69" stroke="#000" stroke-width="0.85"/>
<line x1="303.31" y1="211.69" x2="305.69" y2="211.69" stroke="#000" stroke-width="0.85"/>
<rect x="302" y="213.9" width="4.75" height="88.6" fill="#000"/>
<line x1="309.5" y1="216.47" x2="309.5" y2="212.22" stroke="#000" stroke-width="0.85"/>
<line x1="308.38" y1="212.22" x2="310.62" y2="212.22" stroke="#000" stroke-width="0.85"/>
<rect x="307.9" y="216.87" width="3.7" height="85.63" fill="#fff" stroke="#000" stroke-width="0.8"/>
<line x1="315.5" y1="216.47" x2="315.5" y2="211.69" stroke="#000" stroke-width="0.85"/>
<line x1="314.25" y1="211.69" x2="316.75" y2="211.69" stroke="#000" stroke-width="0.85"/>
<rect x="312.9" y="216.87" width="4.2" height="85.63" fill="url(#hatch)" stroke="#000" stroke-width="0.8"/>
<line x1="320.5" y1="238.44" x2="320.5" y2="234.72" stroke="#000" stroke-width="0.85"/>
<line x1="319.38" y1="234.72" x2="321.62" y2="234.72" stroke="#000" stroke-width="0.85"/>
<rect x="318.4" y="238.84" width="3.7" height="63.66" fill="url(#light)" stroke="#000" stroke-width="0.8"/>
<line x1="336.5" y1="213.9" x2="336.5" y2="210.98" stroke="#000" stroke-width="0.85"/>
<line x1="335.31" y1="210.98" x2="337.69" y2="210.98" stroke="#000" stroke-width="0.85"/>
<rect x="334.5" y="213.9" width="4.75" height="88.6" fill="#000"/>
<line x1="342.5" y1="214.34" x2="342.5" y2="213.01" stroke="#000" stroke-width="0.85"/>
<line x1="341.44" y1="213.01" x2="343.56" y2="213.01" stroke="#000" stroke-width="0.85"/>
<rect x="340.4" y="214.74" width="3.45" height="87.76" fill="#fff" stroke="#000" stroke-width="0.8"/>
<line x1="347.5" y1="216.47" x2="347.5" y2="216.12" stroke="#000" stroke-width="0.85"/>
<line x1="346.38" y1="216.12" x2="348.62" y2="216.12" stroke="#000" stroke-width="0.85"/>
<rect x="345.4" y="216.87" width="3.7" height="85.63" fill="url(#hatch)" stroke="#000" stroke-width="0.8"/>
<line x1="352.5" y1="229.23" x2="352.5" y2="227.19" stroke="#000" stroke-width="0.85"/>
<line x1="351.38" y1="227.19" x2="353.62" y2="227.19" stroke="#000" stroke-width="0.85"/>
<rect x="350.9" y="229.63" width="3.7" height="72.87" fill="url(#light)" stroke="#000" stroke-width="0.8"/>
<text x="213.2" y="251.8" font-size="10.8" font-family='"Liberation Sans", sans-serif' font-weight="bold" text-anchor="middle" fill="#000" stroke="#000" stroke-width="0.3" textLength="47.6" lengthAdjust="spacingAndGlyphs" transform="rotate(-90 213.2 251.8)" >% survival</text>
<text x="247.3" y="312.2" font-size="10.5" font-family='"Liberation Serif", serif' font-weight="bold" text-anchor="middle" fill="#000" stroke="#000" stroke-width="0.38" >Pt</text>
<text x="280.6" y="312.2" font-size="10.5" font-family='"Liberation Serif", serif' font-weight="bold" text-anchor="middle" fill="#000" stroke="#000" stroke-width="0.38" >Pt</text>
<text x="311.7" y="312.2" font-size="10.5" font-family='"Liberation Serif", serif' font-weight="bold" text-anchor="middle" fill="#000" stroke="#000" stroke-width="0.38" >Pt</text>
<text x="344.7" y="312.2" font-size="10.5" font-family='"Liberation Serif", serif' font-weight="bold" text-anchor="middle" fill="#000" stroke="#000" stroke-width="0.38" >Pt</text>
<text x="247" y="321" font-size="10.5" font-family='"Liberation Serif", serif' font-weight="bold" text-anchor="middle" fill="#000" stroke="#000" stroke-width="0.38" textLength="22.2" lengthAdjust="spacingAndGlyphs" >no. 1</text>
<text x="280.3" y="321" font-size="10.5" font-family='"Liberation Serif", serif' font-weight="bold" text-anchor="middle" fill="#000" stroke="#000" stroke-width="0.38" textLength="22.2" lengthAdjust="spacingAndGlyphs" >no. 2</text>
<text x="311.4" y="321" font-size="10.5" font-family='"Liberation Serif", serif' font-weight="bold" text-anchor="middle" fill="#000" stroke="#000" stroke-width="0.38" textLength="22.2" lengthAdjust="spacingAndGlyphs" >no. 3</text>
<text x="344.4" y="321" font-size="10.5" font-family='"Liberation Serif", serif' font-weight="bold" text-anchor="middle" fill="#000" stroke="#000" stroke-width="0.38" textLength="22.2" lengthAdjust="spacingAndGlyphs" >no. 4</text>
<line x1="396.5" y1="272.5" x2="396.5" y2="194.5" stroke="#222" stroke-width="0.9"/>
<line x1="394.9" y1="272.5" x2="396.5" y2="272.5" stroke="#222" stroke-width="0.9"/>
<text x="392" y="275.45" font-size="6.8" font-family='"Liberation Sans", sans-serif' font-weight="bold" text-anchor="end" fill="#000" stroke="#000" stroke-width="0.29" textLength="3.4" lengthAdjust="spacingAndGlyphs" >0</text>
<line x1="394.9" y1="259.5" x2="396.5" y2="259.5" stroke="#222" stroke-width="0.9"/>
<text x="392" y="262.45" font-size="6.8" font-family='"Liberation Sans", sans-serif' font-weight="bold" text-anchor="end" fill="#000" stroke="#000" stroke-width="0.29" textLength="6.8" lengthAdjust="spacingAndGlyphs" >20</text>
<line x1="394.9" y1="246.5" x2="396.5" y2="246.5" stroke="#222" stroke-width="0.9"/>
<text x="392" y="249.45" font-size="6.8" font-family='"Liberation Sans", sans-serif' font-weight="bold" text-anchor="end" fill="#000" stroke="#000" stroke-width="0.29" textLength="6.8" lengthAdjust="spacingAndGlyphs" >40</text>
<line x1="394.9" y1="233.5" x2="396.5" y2="233.5" stroke="#222" stroke-width="0.9"/>
<text x="392" y="236.45" font-size="6.8" font-family='"Liberation Sans", sans-serif' font-weight="bold" text-anchor="end" fill="#000" stroke="#000" stroke-width="0.29" textLength="6.8" lengthAdjust="spacingAndGlyphs" >60</text>
<line x1="394.9" y1="220.5" x2="396.5" y2="220.5" stroke="#222" stroke-width="0.9"/>
<text x="392" y="223.45" font-size="6.8" font-family='"Liberation Sans", sans-serif' font-weight="bold" text-anchor="end" fill="#000" stroke="#000" stroke-width="0.29" textLength="6.8" lengthAdjust="spacingAndGlyphs" >80</text>
<line x1="394.9" y1="207.5" x2="396.5" y2="207.5" stroke="#222" stroke-width="0.9"/>
<text x="392" y="210.45" font-size="6.8" font-family='"Liberation Sans", sans-serif' font-weight="bold" text-anchor="end" fill="#000" stroke="#000" stroke-width="0.29" textLength="10.2" lengthAdjust="spacingAndGlyphs" >100</text>
<line x1="394.9" y1="194.5" x2="396.5" y2="194.5" stroke="#222" stroke-width="0.9"/>
<text x="392" y="197.45" font-size="6.8" font-family='"Liberation Sans", sans-serif' font-weight="bold" text-anchor="end" fill="#000" stroke="#000" stroke-width="0.29" textLength="10.2" lengthAdjust="spacingAndGlyphs" >120</text>
<line x1="396.5" y1="272.5" x2="469.5" y2="272.5" stroke="#222" stroke-width="0.9"/>
<line x1="400.5" y1="207.5" x2="400.5" y2="205.88" stroke="#000" stroke-width="0.85"/>
<line x1="399.18" y1="205.88" x2="401.82" y2="205.88" stroke="#000" stroke-width="0.85"/>
<rect x="397.8" y="207.5" width="5.3" height="65" fill="#000"/>
<line x1="407.5" y1="205.55" x2="407.5" y2="201" stroke="#000" stroke-width="0.85"/>
<line x1="406.12" y1="201" x2="408.88" y2="201" stroke="#000" stroke-width="0.85"/>
<rect x="404.7" y="205.95" width="4.7" height="66.55" fill="#fff" stroke="#000" stroke-width="0.8"/>
<line x1="420.5" y1="204.25" x2="420.5" y2="203.27" stroke="#000" stroke-width="0.85"/>
<line x1="419" y1="203.27" x2="422" y2="203.27" stroke="#000" stroke-width="0.85"/>
<rect x="417" y="204.25" width="6" height="68.25" fill="#000"/>
<line x1="426.5" y1="221.47" x2="426.5" y2="217.9" stroke="#000" stroke-width="0.85"/>
<line x1="425.19" y1="217.9" x2="427.81" y2="217.9" stroke="#000" stroke-width="0.85"/>
<rect x="424.65" y="221.88" width="4.45" height="50.63" fill="#fff" stroke="#000" stroke-width="0.8"/>
<line x1="439.5" y1="208.15" x2="439.5" y2="206.52" stroke="#000" stroke-width="0.85"/>
<line x1="438.12" y1="206.52" x2="440.88" y2="206.52" stroke="#000" stroke-width="0.85"/>
<rect x="437" y="208.15" width="5.5" height="64.35" fill="#000"/>
<line x1="446.5" y1="235.45" x2="446.5" y2="232.2" stroke="#000" stroke-width="0.85"/>
<line x1="445.06" y1="232.2" x2="447.94" y2="232.2" stroke="#000" stroke-width="0.85"/>
<rect x="444.15" y="235.85" width="4.95" height="36.65" fill="#fff" stroke="#000" stroke-width="0.8"/>
<line x1="459.5" y1="219.85" x2="459.5" y2="219.2" stroke="#000" stroke-width="0.85"/>
<line x1="458.12" y1="219.2" x2="460.88" y2="219.2" stroke="#000" stroke-width="0.85"/>
<rect x="457" y="219.85" width="5.5" height="52.65" fill="#000"/>
<line x1="466.5" y1="250.4" x2="466.5" y2="250.07" stroke="#000" stroke-width="0.85"/>
<line x1="465.06" y1="250.07" x2="467.94" y2="250.07" stroke="#000" stroke-width="0.85"/>
<rect x="464.15" y="250.8" width="4.95" height="21.7" fill="#fff" stroke="#000" stroke-width="0.8"/>
<text x="378.9" y="233.1" font-size="7" font-family='"Liberation Sans", sans-serif' font-weight="bold" text-anchor="middle" fill="#000" stroke="#000" stroke-width="0.18" textLength="33.4" lengthAdjust="spacingAndGlyphs" transform="rotate(-90 378.9 233.1)" >% survival</text>
<text x="401.25" y="283.4" font-size="11.5" font-family='"Liberation Serif", serif' font-weight="bold" text-anchor="middle" fill="#000" stroke="#000" stroke-width="0.41" >0</text>
<text x="422.5" y="283.4" font-size="11.5" font-family='"Liberation Serif", serif' font-weight="bold" text-anchor="middle" fill="#000" stroke="#000" stroke-width="0.41" >2</text>
<text x="440.75" y="283.4" font-size="11.5" font-family='"Liberation Serif", serif' font-weight="bold" text-anchor="middle" fill="#000" stroke="#000" stroke-width="0.41" >5</text>
<text x="462.5" y="283.4" font-size="11.5" font-family='"Liberation Serif", serif' font-weight="bold" text-anchor="middle" fill="#000" stroke="#000" stroke-width="0.41" >10</text>
<text x="434.4" y="294.6" font-size="12" font-family='"Liberation Serif", serif' font-weight="bold" text-anchor="middle" fill="#000" stroke="#000" stroke-width="0.42" textLength="61.2" lengthAdjust="spacingAndGlyphs" >PS341 (nM)</text>
<line x1="24.5" y1="473.5" x2="24.5" y2="382.54" stroke="#222" stroke-width="0.9"/>
<line x1="22.5" y1="473.5" x2="24.5" y2="473.5" stroke="#222" stroke-width="0.9"/>
<text x="18.9" y="476.63" font-size="7.3" font-family='"Liberation Sans", sans-serif' font-weight="bold" text-anchor="end" fill="#000" stroke="#000" stroke-width="0.3" textLength="3.73" lengthAdjust="spacingAndGlyphs" >0</text>
<line x1="22.5" y1="458.34" x2="24.5" y2="458.34" stroke="#222" stroke-width="0.9"/>
<text x="18.9" y="461.47" font-size="7.3" font-family='"Liberation Sans", sans-serif' font-weight="bold" text-anchor="end" fill="#000" stroke="#000" stroke-width="0.3" textLength="7.47" lengthAdjust="spacingAndGlyphs" >20</text>
<line x1="22.5" y1="443.18" x2="24.5" y2="443.18" stroke="#222" stroke-width="0.9"/>
<text x="18.9" y="446.31" font-size="7.3" font-family='"Liberation Sans", sans-serif' font-weight="bold" text-anchor="end" fill="#000" stroke="#000" stroke-width="0.3" textLength="7.47" lengthAdjust="spacingAndGlyphs" >40</text>
<line x1="22.5" y1="428.02" x2="24.5" y2="428.02" stroke="#222" stroke-width="0.9"/>
<text x="18.9" y="431.15" font-size="7.3" font-family='"Liberation Sans", sans-serif' font-weight="bold" text-anchor="end" fill="#000" stroke="#000" stroke-width="0.3" textLength="7.47" lengthAdjust="spacingAndGlyphs" >60</text>
<line x1="22.5" y1="412.86" x2="24.5" y2="412.86" stroke="#222" stroke-width="0.9"/>
<text x="18.9" y="415.99" font-size="7.3" font-family='"Liberation Sans", sans-serif' font-weight="bold" text-anchor="end" fill="#000" stroke="#000" stroke-width="0.3" textLength="7.47" lengthAdjust="spacingAndGlyphs" >80</text>
<line x1="22.5" y1="397.7" x2="24.5" y2="397.7" stroke="#222" stroke-width="0.9"/>
<text x="18.9" y="400.83" font-size="7.3" font-family='"Liberation Sans", sans-serif' font-weight="bold" text-anchor="end" fill="#000" stroke="#000" stroke-width="0.3" textLength="11.2" lengthAdjust="spacingAndGlyphs" >100</text>
<line x1="22.5" y1="382.54" x2="24.5" y2="382.54" stroke="#222" stroke-width="0.9"/>
<text x="18.9" y="385.67" font-size="7.3" font-family='"Liberation Sans", sans-serif' font-weight="bold" text-anchor="end" fill="#000" stroke="#000" stroke-width="0.3" textLength="11.2" lengthAdjust="spacingAndGlyphs" >120</text>
<line x1="24.5" y1="473.5" x2="95" y2="473.5" stroke="#222" stroke-width="0.9"/>
<line x1="33.5" y1="397.7" x2="33.5" y2="395.81" stroke="#000" stroke-width="0.85"/>
<line x1="31.9" y1="395.81" x2="35.1" y2="395.81" stroke="#000" stroke-width="0.85"/>
<rect x="29.8" y="397.7" width="7.6" height="75.8" fill="#000"/>
<line x1="51.5" y1="395.05" x2="51.5" y2="390.12" stroke="#000" stroke-width="0.85"/>
<line x1="49.9" y1="390.12" x2="53.1" y2="390.12" stroke="#000" stroke-width="0.85"/>
<rect x="47.3" y="395.05" width="7.9" height="78.45" fill="#000"/>
<line x1="68.5" y1="408.31" x2="68.5" y2="406.8" stroke="#000" stroke-width="0.85"/>
<line x1="66.9" y1="406.8" x2="70.1" y2="406.8" stroke="#000" stroke-width="0.85"/>
<rect x="65" y="408.31" width="7.5" height="65.19" fill="#000"/>
<line x1="86.5" y1="428.78" x2="86.5" y2="424.99" stroke="#000" stroke-width="0.85"/>
<line x1="84.9" y1="424.99" x2="88.1" y2="424.99" stroke="#000" stroke-width="0.85"/>
<rect x="82.5" y="428.78" width="7" height="44.72" fill="#000"/>
<text x="6.8" y="426.6" font-size="7" font-family='"Liberation Sans", sans-serif' font-weight="bold" text-anchor="middle" fill="#000" stroke="#000" stroke-width="0.18" textLength="33.7" lengthAdjust="spacingAndGlyphs" transform="rotate(-90 6.8 426.6)" >% survival</text>
<text x="31.16" y="487.07" font-size="6.87" font-family='"Liberation Sans", sans-serif' font-weight="bold" text-anchor="end" fill="#000" stroke="#000" stroke-width="0.29" textLength="22.21" lengthAdjust="spacingAndGlyphs" transform="rotate(-47.5 31.16 487.07)" >Control</text>
<text x="48.67" y="486.87" font-size="6.08" font-family='"Liberation Sans", sans-serif' font-weight="bold" text-anchor="end" fill="#000" stroke="#000" stroke-width="0.27" textLength="9.22" lengthAdjust="spacingAndGlyphs" transform="rotate(-47.5 48.67 486.87)" >Mel</text>
<text x="66.25" y="486.86" font-size="6.85" font-family='"Liberation Sans", sans-serif' font-weight="bold" text-anchor="end" fill="#000" stroke="#000" stroke-width="0.29" textLength="18.7" lengthAdjust="spacingAndGlyphs" transform="rotate(-47.5 66.25 486.86)" >PS341</text>
<text x="83.8" y="487.07" font-size="7.17" font-family='"Liberation Sans", sans-serif' font-weight="bold" text-anchor="end" fill="#000" stroke="#000" stroke-width="0.3" textLength="34.22" lengthAdjust="spacingAndGlyphs" transform="rotate(-47.5 83.8 487.07)" >PS341+Mel</text>
<line x1="143.5" y1="474.5" x2="143.5" y2="381.32" stroke="#222" stroke-width="0.9"/>
<line x1="141.5" y1="474.5" x2="143.5" y2="474.5" stroke="#222" stroke-width="0.9"/>
<text x="136.2" y="477.63" font-size="7.3" font-family='"Liberation Sans", sans-serif' font-weight="bold" text-anchor="end" fill="#000" stroke="#000" stroke-width="0.3" textLength="3.73" lengthAdjust="spacingAndGlyphs" >0</text>
<line x1="141.5" y1="458.97" x2="143.5" y2="458.97" stroke="#222" stroke-width="0.9"/>
<text x="136.2" y="462.1" font-size="7.3" font-family='"Liberation Sans", sans-serif' font-weight="bold" text-anchor="end" fill="#000" stroke="#000" stroke-width="0.3" textLength="7.47" lengthAdjust="spacingAndGlyphs" >20</text>
<line x1="141.5" y1="443.44" x2="143.5" y2="443.44" stroke="#222" stroke-width="0.9"/>
<text x="136.2" y="446.57" font-size="7.3" font-family='"Liberation Sans", sans-serif' font-weight="bold" text-anchor="end" fill="#000" stroke="#000" stroke-width="0.3" textLength="7.47" lengthAdjust="spacingAndGlyphs" >40</text>
<line x1="141.5" y1="427.91" x2="143.5" y2="427.91" stroke="#222" stroke-width="0.9"/>
<text x="136.2" y="431.04" font-size="7.3" font-family='"Liberation Sans", sans-serif' font-weight="bold" text-anchor="end" fill="#000" stroke="#000" stroke-width="0.3" textLength="7.47" lengthAdjust="spacingAndGlyphs" >60</text>
<line x1="141.5" y1="412.38" x2="143.5" y2="412.38" stroke="#222" stroke-width="0.9"/>
<text x="136.2" y="415.51" font-size="7.3" font-family='"Liberation Sans", sans-serif' font-weight="bold" text-anchor="end" fill="#000" stroke="#000" stroke-width="0.3" textLength="7.47" lengthAdjust="spacingAndGlyphs" >80</text>
<line x1="141.5" y1="396.85" x2="143.5" y2="396.85" stroke="#222" stroke-width="0.9"/>
<text x="136.2" y="399.98" font-size="7.3" font-family='"Liberation Sans", sans-serif' font-weight="bold" text-anchor="end" fill="#000" stroke="#000" stroke-width="0.3" textLength="11.2" lengthAdjust="spacingAndGlyphs" >100</text>
<line x1="141.5" y1="381.32" x2="143.5" y2="381.32" stroke="#222" stroke-width="0.9"/>
<text x="136.2" y="384.45" font-size="7.3" font-family='"Liberation Sans", sans-serif' font-weight="bold" text-anchor="end" fill="#000" stroke="#000" stroke-width="0.3" textLength="11.2" lengthAdjust="spacingAndGlyphs" >120</text>
<line x1="143.5" y1="474.5" x2="310" y2="474.5" stroke="#222" stroke-width="0.9"/>
<line x1="150.5" y1="396.85" x2="150.5" y2="396.46" stroke="#000" stroke-width="0.85"/>
<line x1="148.9" y1="396.46" x2="152.1" y2="396.46" stroke="#000" stroke-width="0.85"/>
<rect x="143.5" y="396.85" width="13.6" height="77.65" fill="#000"/>
<line x1="165.5" y1="403.84" x2="165.5" y2="401.9" stroke="#000" stroke-width="0.85"/>
<line x1="163.9" y1="401.9" x2="167.1" y2="401.9" stroke="#000" stroke-width="0.85"/>
<rect x="159.15" y="404.24" width="12.95" height="70.26" fill="#fff" stroke="#000" stroke-width="0.8"/>
<line x1="196.5" y1="401.12" x2="196.5" y2="398.4" stroke="#000" stroke-width="0.85"/>
<line x1="194.9" y1="398.4" x2="198.1" y2="398.4" stroke="#000" stroke-width="0.85"/>
<rect x="189.5" y="401.12" width="13.5" height="73.38" fill="#000"/>
<line x1="211.5" y1="451.98" x2="211.5" y2="450.04" stroke="#000" stroke-width="0.85"/>
<line x1="209.9" y1="450.04" x2="213.1" y2="450.04" stroke="#000" stroke-width="0.85"/>
<rect x="204.9" y="452.38" width="12.95" height="22.12" fill="#fff" stroke="#000" stroke-width="0.8"/>
<line x1="241.5" y1="399.96" x2="241.5" y2="396.07" stroke="#000" stroke-width="0.85"/>
<line x1="239.9" y1="396.07" x2="243.1" y2="396.07" stroke="#000" stroke-width="0.85"/>
<rect x="235" y="399.96" width="13.75" height="74.54" fill="#000"/>
<line x1="257.5" y1="460.13" x2="257.5" y2="458.97" stroke="#000" stroke-width="0.85"/>
<line x1="255.9" y1="458.97" x2="259.1" y2="458.97" stroke="#000" stroke-width="0.85"/>
<rect x="250.9" y="460.53" width="12.2" height="13.97" fill="#fff" stroke="#000" stroke-width="0.8"/>
<line x1="287.5" y1="415.49" x2="287.5" y2="414.71" stroke="#000" stroke-width="0.85"/>
<line x1="285.9" y1="414.71" x2="289.1" y2="414.71" stroke="#000" stroke-width="0.85"/>
<rect x="280.5" y="415.49" width="13.75" height="59.01" fill="#000"/>
<line x1="302.5" y1="460.52" x2="302.5" y2="458.19" stroke="#000" stroke-width="0.85"/>
<line x1="300.9" y1="458.19" x2="304.1" y2="458.19" stroke="#000" stroke-width="0.85"/>
<rect x="295.9" y="460.92" width="12.95" height="13.58" fill="#fff" stroke="#000" stroke-width="0.8"/>
<text x="119.2" y="428.4" font-size="10.8" font-family='"Liberation Sans", sans-serif' font-weight="bold" text-anchor="middle" fill="#000" stroke="#000" stroke-width="0.3" textLength="48" lengthAdjust="spacingAndGlyphs" transform="rotate(-90 119.2 428.4)" >% survival</text>
<text x="147.55" y="485.94" font-size="5.85" font-family='"Liberation Sans", sans-serif' font-weight="bold" text-anchor="end" fill="#000" stroke="#000" stroke-width="0.27" textLength="18.9" lengthAdjust="spacingAndGlyphs" transform="rotate(-44 147.55 485.94)" >Control</text>
<text x="163.34" y="486.57" font-size="5.83" font-family='"Liberation Sans", sans-serif' font-weight="bold" text-anchor="end" fill="#000" stroke="#000" stroke-width="0.27" textLength="13.25" lengthAdjust="spacingAndGlyphs" transform="rotate(-44 163.34 486.57)" >Doxo</text>
<text x="193.87" y="486.07" font-size="6.43" font-family='"Liberation Sans", sans-serif' font-weight="bold" text-anchor="end" fill="#000" stroke="#000" stroke-width="0.28" textLength="32.48" lengthAdjust="spacingAndGlyphs" transform="rotate(-44 193.87 486.07)" >PS341 5 nM</text>
<text x="209.15" y="486.39" font-size="6.57" font-family='"Liberation Sans", sans-serif' font-weight="bold" text-anchor="end" fill="#000" stroke="#000" stroke-width="0.28" textLength="51.63" lengthAdjust="spacingAndGlyphs" transform="rotate(-44 209.15 486.39)" >Doxo+PS341 5 nM</text>
<text x="239.38" y="486.29" font-size="6.51" font-family='"Liberation Sans", sans-serif' font-weight="bold" text-anchor="end" fill="#000" stroke="#000" stroke-width="0.28" textLength="36.2" lengthAdjust="spacingAndGlyphs" transform="rotate(-44 239.38 486.29)" >PS341 10 nM</text>
<text x="254.68" y="486.82" font-size="6.51" font-family='"Liberation Sans", sans-serif' font-weight="bold" text-anchor="end" fill="#000" stroke="#000" stroke-width="0.28" textLength="54.42" lengthAdjust="spacingAndGlyphs" transform="rotate(-44 254.68 486.82)" >Doxo+PS341 10 nM</text>
<text x="284.72" y="486.49" font-size="6.4" font-family='"Liberation Sans", sans-serif' font-weight="bold" text-anchor="end" fill="#000" stroke="#000" stroke-width="0.28" textLength="35.56" lengthAdjust="spacingAndGlyphs" transform="rotate(-44 284.72 486.49)" >PS341 20 nM</text>
<text x="300.18" y="486.82" font-size="6.51" font-family='"Liberation Sans", sans-serif' font-weight="bold" text-anchor="end" fill="#000" stroke="#000" stroke-width="0.28" textLength="54.42" lengthAdjust="spacingAndGlyphs" transform="rotate(-44 300.18 486.82)" >Doxo+PS341 20 nM</text>
<line x1="356.5" y1="473.5" x2="356.5" y2="381.8" stroke="#222" stroke-width="0.9"/>
<line x1="354.5" y1="473.5" x2="356.5" y2="473.5" stroke="#222" stroke-width="0.9"/>
<text x="348.9" y="476.27" font-size="6.3" font-family='"Liberation Sans", sans-serif' font-weight="bold" text-anchor="end" fill="#000" stroke="#000" stroke-width="0.28" textLength="3.8" lengthAdjust="spacingAndGlyphs" >0</text>
<line x1="354.5" y1="458.22" x2="356.5" y2="458.22" stroke="#222" stroke-width="0.9"/>
<text x="348.9" y="460.98" font-size="6.3" font-family='"Liberation Sans", sans-serif' font-weight="bold" text-anchor="end" fill="#000" stroke="#000" stroke-width="0.28" textLength="7.6" lengthAdjust="spacingAndGlyphs" >20</text>
<line x1="354.5" y1="442.93" x2="356.5" y2="442.93" stroke="#222" stroke-width="0.9"/>
<text x="348.9" y="445.7" font-size="6.3" font-family='"Liberation Sans", sans-serif' font-weight="bold" text-anchor="end" fill="#000" stroke="#000" stroke-width="0.28" textLength="7.6" lengthAdjust="spacingAndGlyphs" >40</text>
<line x1="354.5" y1="427.65" x2="356.5" y2="427.65" stroke="#222" stroke-width="0.9"/>
<text x="348.9" y="430.42" font-size="6.3" font-family='"Liberation Sans", sans-serif' font-weight="bold" text-anchor="end" fill="#000" stroke="#000" stroke-width="0.28" textLength="7.6" lengthAdjust="spacingAndGlyphs" >60</text>
<line x1="354.5" y1="412.36" x2="356.5" y2="412.36" stroke="#222" stroke-width="0.9"/>
<text x="348.9" y="415.13" font-size="6.3" font-family='"Liberation Sans", sans-serif' font-weight="bold" text-anchor="end" fill="#000" stroke="#000" stroke-width="0.28" textLength="7.6" lengthAdjust="spacingAndGlyphs" >80</text>
<line x1="354.5" y1="397.08" x2="356.5" y2="397.08" stroke="#222" stroke-width="0.9"/>
<text x="348.9" y="399.85" font-size="6.3" font-family='"Liberation Sans", sans-serif' font-weight="bold" text-anchor="end" fill="#000" stroke="#000" stroke-width="0.28" textLength="11.4" lengthAdjust="spacingAndGlyphs" >100</text>
<line x1="354.5" y1="381.8" x2="356.5" y2="381.8" stroke="#222" stroke-width="0.9"/>
<text x="348.9" y="384.56" font-size="6.3" font-family='"Liberation Sans", sans-serif' font-weight="bold" text-anchor="end" fill="#000" stroke="#000" stroke-width="0.28" textLength="11.4" lengthAdjust="spacingAndGlyphs" >120</text>
<line x1="356.5" y1="473.5" x2="520" y2="473.5" stroke="#222" stroke-width="0.9"/>
<line x1="360.5" y1="397.08" x2="360.5" y2="392.49" stroke="#000" stroke-width="0.85"/>
<line x1="358.9" y1="392.49" x2="362.1" y2="392.49" stroke="#000" stroke-width="0.85"/>
<rect x="356.5" y="397.08" width="7.9" height="76.42" fill="#000"/>
<line x1="370.5" y1="397.08" x2="370.5" y2="394.79" stroke="#000" stroke-width="0.85"/>
<line x1="368.9" y1="394.79" x2="372.1" y2="394.79" stroke="#000" stroke-width="0.85"/>
<rect x="366.65" y="397.48" width="6.7" height="76.02" fill="#fff" stroke="#000" stroke-width="0.8"/>
<line x1="388.5" y1="452.1" x2="388.5" y2="450.57" stroke="#000" stroke-width="0.85"/>
<line x1="386.9" y1="450.57" x2="390.1" y2="450.57" stroke="#000" stroke-width="0.85"/>
<rect x="384.25" y="452.1" width="7.75" height="21.4" fill="#000"/>
<line x1="396.5" y1="439.11" x2="396.5" y2="436.05" stroke="#000" stroke-width="0.85"/>
<line x1="394.9" y1="436.05" x2="398.1" y2="436.05" stroke="#000" stroke-width="0.85"/>
<rect x="393.4" y="439.51" width="6.95" height="33.99" fill="#fff" stroke="#000" stroke-width="0.8"/>
<line x1="415.5" y1="453.63" x2="415.5" y2="452.48" stroke="#000" stroke-width="0.85"/>
<line x1="413.9" y1="452.48" x2="417.1" y2="452.48" stroke="#000" stroke-width="0.85"/>
<rect x="411.25" y="453.63" width="7.75" height="19.87" fill="#000"/>
<line x1="424.5" y1="442.93" x2="424.5" y2="442.17" stroke="#000" stroke-width="0.85"/>
<line x1="422.9" y1="442.17" x2="426.1" y2="442.17" stroke="#000" stroke-width="0.85"/>
<rect x="420.65" y="443.33" width="7.7" height="30.17" fill="#fff" stroke="#000" stroke-width="0.8"/>
<line x1="442.5" y1="413.13" x2="442.5" y2="410.07" stroke="#000" stroke-width="0.85"/>
<line x1="440.9" y1="410.07" x2="444.1" y2="410.07" stroke="#000" stroke-width="0.85"/>
<rect x="438.75" y="413.13" width="7.5" height="60.37" fill="#000"/>
<line x1="451.5" y1="410.84" x2="451.5" y2="407.01" stroke="#000" stroke-width="0.85"/>
<line x1="449.9" y1="407.01" x2="453.1" y2="407.01" stroke="#000" stroke-width="0.85"/>
<rect x="447.9" y="411.24" width="7.2" height="62.26" fill="#fff" stroke="#000" stroke-width="0.8"/>
<line x1="469.5" y1="468.91" x2="469.5" y2="468.53" stroke="#000" stroke-width="0.85"/>
<line x1="467.9" y1="468.53" x2="471.1" y2="468.53" stroke="#000" stroke-width="0.85"/>
<rect x="465.75" y="468.91" width="7.5" height="4.59" fill="#000"/>
<line x1="478.5" y1="468.91" x2="478.5" y2="468.53" stroke="#000" stroke-width="0.85"/>
<line x1="476.9" y1="468.53" x2="480.1" y2="468.53" stroke="#000" stroke-width="0.85"/>
<rect x="474.65" y="469.31" width="7.45" height="4.19" fill="#fff" stroke="#000" stroke-width="0.8"/>
<line x1="496.5" y1="470.44" x2="496.5" y2="470.06" stroke="#000" stroke-width="0.85"/>
<line x1="494.9" y1="470.06" x2="498.1" y2="470.06" stroke="#000" stroke-width="0.85"/>
<rect x="493" y="470.44" width="7.5" height="3.06" fill="#000"/>
<line x1="505.5" y1="469.68" x2="505.5" y2="469.3" stroke="#000" stroke-width="0.85"/>
<line x1="503.9" y1="469.3" x2="507.1" y2="469.3" stroke="#000" stroke-width="0.85"/>
<rect x="501.9" y="470.08" width="7.2" height="3.42" fill="#fff" stroke="#000" stroke-width="0.8"/>
<text x="336.4" y="430" font-size="12.5" font-family='"Liberation Sans", sans-serif' font-weight="bold" text-anchor="middle" fill="#000" stroke="#000" stroke-width="0.3" textLength="46.8" lengthAdjust="spacingAndGlyphs" transform="rotate(-90 336.4 430)" >% survival</text>
<text x="370.71" y="481.22" font-size="6.37" font-family='"Liberation Sans", sans-serif' font-weight="bold" text-anchor="end" fill="#000" stroke="#000" stroke-width="0.28" textLength="20.58" lengthAdjust="spacingAndGlyphs" transform="rotate(-41 370.71 481.22)" >Control</text>
<text x="395.76" y="481.22" font-size="6.59" font-family='"Liberation Sans", sans-serif' font-weight="bold" text-anchor="end" fill="#000" stroke="#000" stroke-width="0.28" textLength="44.37" lengthAdjust="spacingAndGlyphs" transform="rotate(-41 395.76 481.22)" >Doxo 0.1 µg/mL</text>
<text x="420.99" y="481.42" font-size="6.49" font-family='"Liberation Sans", sans-serif' font-weight="bold" text-anchor="end" fill="#000" stroke="#000" stroke-width="0.28" textLength="43.72" lengthAdjust="spacingAndGlyphs" transform="rotate(-41 420.99 481.42)" >Doxo 0.2 µg/mL</text>
<text x="451.11" y="481.83" font-size="6.43" font-family='"Liberation Sans", sans-serif' font-weight="bold" text-anchor="end" fill="#000" stroke="#000" stroke-width="0.28" textLength="19.49" lengthAdjust="spacingAndGlyphs" transform="rotate(-41 451.11 481.83)" >PS-341</text>
<text x="471.86" y="480.09" font-size="6.58" font-family='"Liberation Sans", sans-serif' font-weight="bold" text-anchor="end" fill="#000" stroke="#000" stroke-width="0.28" textLength="47.83" lengthAdjust="spacingAndGlyphs" transform="rotate(-41 471.86 480.09)" >Doxo 0.1 µg/mL+</text>
<text x="478.2" y="485.04" font-size="5.8" font-family='"Liberation Sans", sans-serif' font-weight="bold" text-anchor="end" fill="#000" stroke="#000" stroke-width="0.27" textLength="17.59" lengthAdjust="spacingAndGlyphs" transform="rotate(-41 478.2 485.04)" >PS-341</text>
<text x="499.56" y="480.09" font-size="6.58" font-family='"Liberation Sans", sans-serif' font-weight="bold" text-anchor="end" fill="#000" stroke="#000" stroke-width="0.28" textLength="47.83" lengthAdjust="spacingAndGlyphs" transform="rotate(-41 499.56 480.09)" >Doxo 0.2 µg/mL+</text>
<text x="505.58" y="484.84" font-size="6.08" font-family='"Liberation Sans", sans-serif' font-weight="bold" text-anchor="end" fill="#000" stroke="#000" stroke-width="0.27" textLength="18.43" lengthAdjust="spacingAndGlyphs" transform="rotate(-41 505.58 484.84)" >PS-341</text>
</svg>
</body></html>
